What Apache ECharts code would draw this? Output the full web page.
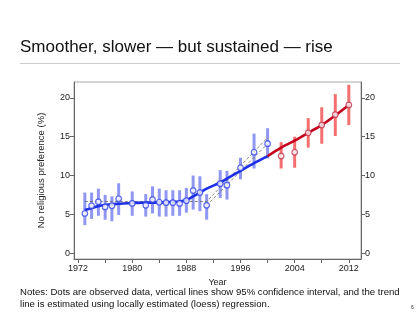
<!DOCTYPE html>
<html>
<head>
<meta charset="utf-8">
<script src="https://cdn.jsdelivr.net/npm/echarts@6/dist/echarts.min.js"></script>
<style>
  html, body { margin: 0; padding: 0; background: #fff; }
  #chart { width: 420px; height: 323px; }
</style>
</head>
<body>
<div id="chart"></div>
<script>
// Survey years before and after 2000 (blue vs red segment)
const yearsEarly = [1973, 1974, 1975, 1976, 1977, 1978, 1980, 1982, 1983, 1984, 1985, 1986, 1987, 1988, 1989, 1990, 1991, 1993, 1994, 1996, 1998, 2000];
const observedEarly = [5.1, 6.1, 6.6, 5.95, 6.1, 7.0, 6.4, 6.15, 6.9, 6.55, 6.5, 6.5, 6.4, 6.75, 8.05, 7.8, 6.15, 8.95, 8.75, 11.0, 13.0, 14.1];
const lowerEarly = [3.6, 4.4, 4.8, 4.3, 4.1, 4.9, 4.8, 4.7, 5.1, 4.7, 4.7, 4.8, 4.8, 5.2, 5.6, 5.4, 4.3, 7.1, 6.9, 9.5, 10.9, 12.2];
const upperEarly = [7.8, 7.8, 8.3, 7.5, 7.3, 9.0, 7.95, 7.6, 8.6, 8.3, 8.1, 8.1, 8.1, 8.4, 10.0, 9.9, 7.6, 10.7, 10.6, 12.3, 15.4, 16.1];
const trendEarly = [5.55, 5.8, 6.05, 6.2, 6.3, 6.35, 6.45, 6.5, 6.5, 6.5, 6.55, 6.6, 6.65, 6.85, 7.3, 7.8, 8.3, 9.1, 9.6, 10.6, 11.6, 12.5];

const yearsLate = [2002, 2004, 2006, 2008, 2010, 2012];
const observedLate = [12.5, 13.0, 15.5, 16.5, 17.85, 19.1];
const lowerLate = [10.9, 11.0, 13.6, 14.1, 15.1, 16.5];
const upperLate = [14.3, 15.0, 17.4, 18.8, 20.5, 21.7];
const trendLateYears = [2000, 2002, 2004, 2006, 2008, 2010, 2012];
const trendLate = [12.5, 13.6, 14.5, 15.5, 16.5, 17.75, 19.1];

// Hout-Fischer model: flat until 1991, then rising
const hfYears = [1973, 1991, 2000];
const hfValues = [6.65, 6.65, 14.9];
const hfAltYears = [1991, 2000];
const hfAltValues = [6.15, 14.1];

const xLabelValues = [1972, 1980, 1988, 1996, 2004, 2012];
const xTickValues = [1972, 1976, 1980, 1984, 1988, 1992, 1996, 2000, 2004, 2008, 2012];
const yTickValues = [0, 5, 10, 15, 20];

const FONT = '"Liberation Sans", Arial, sans-serif';
const pairs = (xs, ys) => xs.map((x, i) => [x, ys[i]]);
const ciRows = (xs, lo, hi) => xs.map((x, i) => [x, lo[i], hi[i]]);

function ciBar(color) {
  return function (params, api) {
    const p0 = api.coord([api.value(0), api.value(1)]);
    const p1 = api.coord([api.value(0), api.value(2)]);
    return {
      type: 'line',
      shape: { x1: p0[0], y1: p0[1], x2: p1[0], y2: p1[1] },
      style: { stroke: color, lineWidth: 3 }
    };
  };
}

const yAxisCommon = {
  type: 'value',
  min: -0.77,
  max: 22.06,
  splitLine: { show: false },
  axisLine: { show: true, lineStyle: { color: '#666', width: 1 } },
  axisTick: { show: true, length: 4, customValues: yTickValues, lineStyle: { color: '#666' } },
  axisLabel: { customValues: yTickValues, fontSize: 9, color: '#222', fontFamily: FONT, margin: 4 }
};

const chart = echarts.init(document.getElementById('chart'), null, { renderer: 'canvas' });
chart.setOption({
  animation: false,
  backgroundColor: '#fff',
  title: {
    text: 'Smoother, slower — but sustained — rise',
    left: 15, top: 34,
    textStyle: { fontSize: 17, fontWeight: 'normal', color: '#111', fontFamily: FONT }
  },
  graphic: [
    { type: 'line', shape: { x1: 20, y1: 63.5, x2: 400, y2: 63.5 }, style: { stroke: '#ccc', lineWidth: 1 } },
    {
      type: 'text', left: 20, top: 287,
      style: {
        text: 'Notes: Dots are observed data, vertical lines show 95% confidence interval, and the trend\nline is estimated using locally estimated (loess) regression.',
        fontSize: 9.6, lineHeight: 11.5, fill: '#111', fontFamily: FONT
      }
    },
    { type: 'text', left: 411, top: 305, style: { text: '6', fontSize: 5, fill: '#333', fontFamily: FONT } }
  ],
  grid: {
    left: 74, right: 59, top: 82, bottom: 64,
    show: true, borderColor: '#aaa', borderWidth: 1
  },
  xAxis: {
    type: 'value',
    min: 1971.4,
    max: 2013.8,
    name: 'Year',
    nameLocation: 'middle',
    nameGap: 18,
    nameTextStyle: { fontSize: 9, color: '#222', fontFamily: FONT },
    splitLine: { show: false },
    axisLine: { show: true, onZero: false, lineStyle: { color: '#666', width: 1 } },
    axisTick: { show: true, length: 4, customValues: xTickValues, lineStyle: { color: '#666' } },
    axisLabel: {
      customValues: xLabelValues, fontSize: 9, color: '#222', fontFamily: FONT, margin: 5,
      formatter: (v) => String(Math.round(v))
    }
  },
  yAxis: [
    Object.assign({}, yAxisCommon, {
      position: 'left',
      name: 'No religious preference (%)',
      nameLocation: 'middle',
      nameGap: 28,
      nameTextStyle: { fontSize: 9.5, color: '#222', fontFamily: FONT }
    }),
    Object.assign({}, yAxisCommon, { position: 'right' })
  ],
  series: [
    {
      type: 'custom', name: 'CI early', renderItem: ciBar('#8f97f2'),
      data: ciRows(yearsEarly, lowerEarly, upperEarly), z: 2, silent: true
    },
    {
      type: 'custom', name: 'CI late', renderItem: ciBar('#f46f6f'),
      data: ciRows(yearsLate, lowerLate, upperLate), z: 2, silent: true
    },
    {
      type: 'line', name: 'Hout-Fischer model', data: pairs(hfYears, hfValues),
      symbol: 'none', z: 3,
      lineStyle: { color: '#666', width: 0.8, type: [3, 2] },
      markPoint: {
        symbol: 'none',
        data: [{ coord: [1995.6, 12.3], value: 0 }],
        label: {
          show: true, formatter: 'Hout-Fischer model', fontSize: 5.5, color: '#222', fontFamily: FONT
        }
      }
    },
    {
      type: 'line', name: 'Hout-Fischer alt', data: pairs(hfAltYears, hfAltValues),
      symbol: 'none', z: 3,
      lineStyle: { color: '#666', width: 0.8, type: [3, 2] }
    },
    {
      type: 'line', name: 'Trend early', data: pairs(yearsEarly, trendEarly),
      symbol: 'none', smooth: 0.3, z: 4,
      lineStyle: { color: '#1d2fe6', width: 2.6 }
    },
    {
      type: 'line', name: 'Trend late', data: pairs(trendLateYears, trendLate),
      symbol: 'none', smooth: 0.3, z: 4,
      lineStyle: { color: '#c4001c', width: 2.6 }
    },
    {
      type: 'scatter', name: 'Observed early', data: pairs(yearsEarly, observedEarly),
      symbol: 'circle', symbolSize: 5.5, z: 5,
      itemStyle: { color: '#fff', borderColor: '#3546ea', borderWidth: 1.2 }
    },
    {
      type: 'scatter', name: 'Observed late', data: pairs(yearsLate, observedLate),
      symbol: 'circle', symbolSize: 5.5, z: 5,
      itemStyle: { color: '#fff', borderColor: '#c23552', borderWidth: 1.2 }
    },
    {
      type: 'scatter', name: '1991 label', data: [[1991, 6.15]],
      symbol: 'none', z: 6,
      label: { show: true, position: 'right', distance: 4, formatter: '1991', fontSize: 5.5, color: '#222', fontFamily: FONT }
    }
  ]
});
</script>
</body>
</html>
